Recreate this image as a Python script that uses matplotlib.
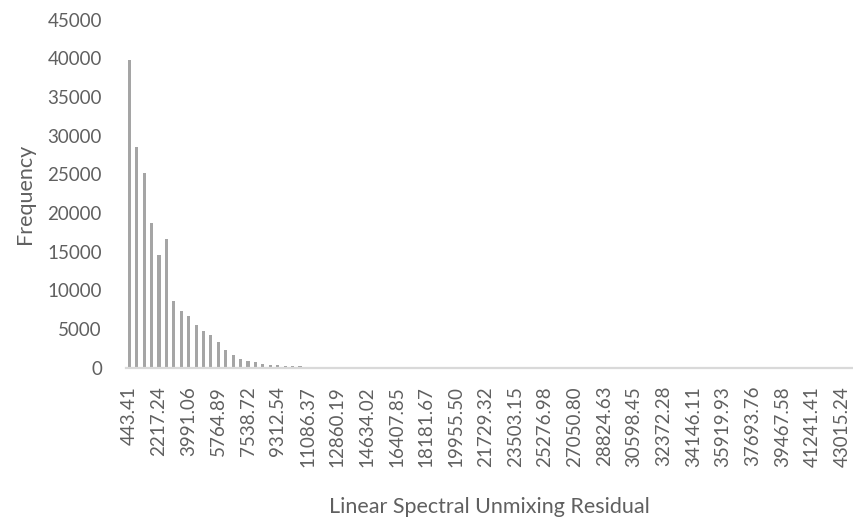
import matplotlib.pyplot as plt

plt.rcParams['font.family'] = ['Lato', 'DejaVu Sans']

# frequencies per residual bin (98 bins, width ~443.46)
frequency = [39800, 28500, 25200, 18700, 14600, 16600, 8700, 7300, 6700, 5600,
             4800, 4200, 3300, 2300, 1600, 1200, 900, 700, 550, 350,
             320, 260, 200, 180, 120, 90, 70, 50, 40, 30,
             25, 20, 15, 10, 10, 8, 6, 5, 4, 3]
n_bins = 98
frequency = frequency + [0] * (n_bins - len(frequency))

# every 4th bin is labelled
tick_labels = ['443.41', '2217.24', '3991.06', '5764.89', '7538.72', '9312.54',
               '11086.37', '12860.19', '14634.02', '16407.85', '18181.67',
               '19955.50', '21729.32', '23503.15', '25276.98', '27050.80',
               '28824.63', '30598.45', '32372.28', '34146.11', '35919.93',
               '37693.76', '39467.58', '41241.41', '43015.24']

fig = plt.figure(figsize=(8.54, 5.21), dpi=100)
ax = fig.add_axes([0.147, 0.294, 0.852, 0.668])

x = list(range(n_bins))
ax.bar(x, frequency, width=0.42, color='#a5a5a5')

ax.set_xlim(-0.5, n_bins - 0.5)
ax.set_ylim(0, 45000)
ax.set_yticks(range(0, 45001, 5000))
ax.set_xticks(x[::4])
ax.set_xticklabels(tick_labels, rotation=90)

for s in ['top', 'right', 'left']:
    ax.spines[s].set_visible(False)
ax.spines['bottom'].set_color('#d9d9d9')
ax.spines['bottom'].set_linewidth(1.6)
ax.tick_params(axis='both', length=0, labelsize=13.5, colors='#606060')
ax.tick_params(axis='x', pad=13)
ax.tick_params(axis='y', pad=17)

ax.set_xlabel('Linear Spectral Unmixing Residual', fontsize=15.5, color='#606060', labelpad=22)
ax.set_ylabel('Frequency', fontsize=15.5, color='#606060', labelpad=9)

fig.savefig('out.png', dpi=100)
